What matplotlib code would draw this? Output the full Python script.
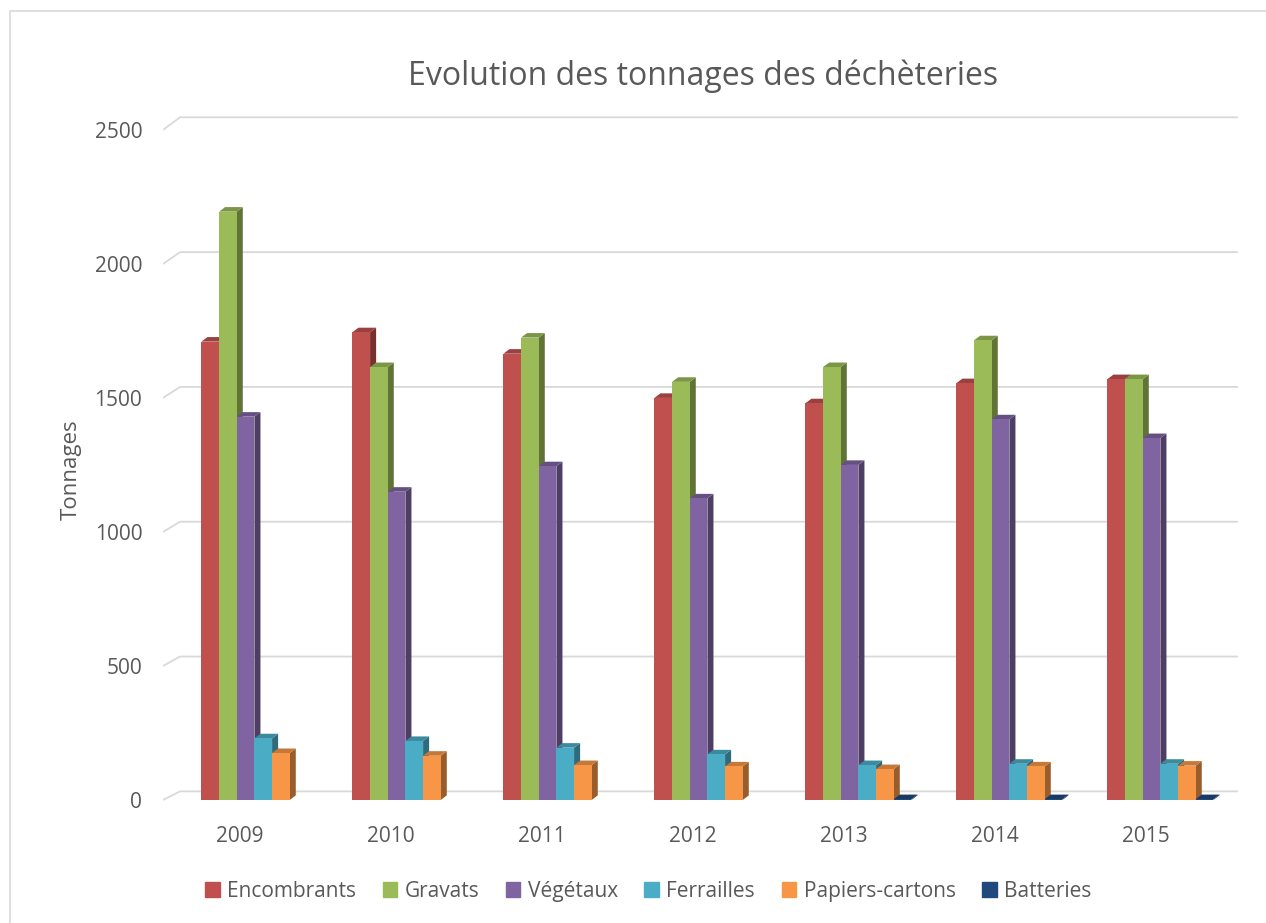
# Evolution des tonnages des déchèteries - pseudo-3D clustered columns
import matplotlib as mpl
import matplotlib.pyplot as plt
import numpy as np
from matplotlib.colors import to_rgb
from matplotlib.patches import Rectangle

mpl.rcParams.update({
    "font.family": ["Open Sans", "DejaVu Sans"],
    "text.color": "#595959",
    "axes.labelcolor": "#595959",
    "xtick.color": "#595959",
    "ytick.color": "#595959",
})

# --- Data ---
years = ["2009", "2010", "2011", "2012", "2013", "2014", "2015"]
series = ["Encombrants", "Gravats", "Végétaux", "Ferrailles", "Papiers-cartons", "Batteries"]
encombrants = [1710, 1745, 1665, 1500, 1480, 1555, 1570]
gravats = [2195, 1615, 1725, 1560, 1615, 1715, 1570]
vegetaux = [1430, 1150, 1245, 1125, 1250, 1420, 1350]
ferrailles = [230, 220, 195, 170, 130, 135, 135]
papiers = [175, 165, 130, 125, 115, 125, 128]
batteries = [np.nan, np.nan, np.nan, np.nan, 3, 3, 3]
yticks = [0, 500, 1000, 1500, 2000, 2500]

values = [encombrants, gravats, vegetaux, ferrailles, papiers, batteries]
colors = ["#C0504D", "#9BBB59", "#8064A2", "#4BACC6", "#F79646", "#1F497D"]


def shade(c, f):
    r, g, b = to_rgb(c)
    return (r * f, g * f, b * f)


fig = plt.figure(figsize=(12.66, 9.23), dpi=100)
ax = fig.add_axes([0.1288, 0.1217, 0.8491, 0.755])
ax.set_xlim(-0.51, 6.609)
ax.set_ylim(-40, 2560)

# back-wall gridlines with perspective stub on the left
xl, xr = ax.get_xlim()
gx = 17 / 151          # depth of the wall, in x units
gofs = 32              # depth of the wall, in y units
for v in yticks:
    ax.plot([xl, xl + gx, xr], [v, v + gofs + 0.006 * v, v + gofs + 0.006 * v],
            color="#d9d9d9", lw=1.3, zorder=0, solid_capstyle="butt")

# columns: front face + side + top
x = np.arange(len(years))
w = 0.117
shift = 0.095
dx, dy = 0.04, 17
for k, (vals, c) in enumerate(zip(values, colors)):
    lefts = x + shift - 3 * w + k * w
    for xi, v in zip(lefts, vals):
        if np.isnan(v):
            continue
        z = 2 + k
        ax.fill([xi + w, xi + w + dx, xi + w + dx, xi + w],
                [0, dy, v + dy, v], color=shade(c, 0.62), lw=0, zorder=z)
        ax.fill([xi, xi + dx, xi + w + dx, xi + w],
                [v, v + dy, v + dy, v], color=shade(c, 0.8), lw=0, zorder=z)
    ax.bar(lefts, vals, w, align="edge", color=c, lw=0, zorder=2 + k + 0.5,
           label=series[k])

ax.set_xticks(x)
ax.set_xticklabels(years)
ax.set_yticks(yticks)
ax.tick_params(axis="both", length=0, labelsize=15)
ax.tick_params(axis="y", pad=15)
ax.tick_params(axis="x", pad=11)
for s in ax.spines.values():
    s.set_visible(False)
ax.set_ylabel("Tonnages", fontsize=16)
ax.yaxis.set_label_coords(-0.076, 0.49)

fig.text(0.555, 0.917, "Evolution des tonnages des déchèteries",
         ha="center", va="center", fontsize=23, color="#595959")

handles = [Rectangle((0, 0), 1, 1, color=c) for c in colors]
fig.legend(handles, series, loc="center", bbox_to_anchor=(0.512, 0.0345),
           ncol=6, frameon=False, fontsize=15, handlelength=0.7,
           handleheight=0.7, handletextpad=0.35, columnspacing=1.28)

# chart frame
fig.add_artist(Rectangle((10 / 1266, -0.05), 1.1, 1 - 11 / 923 + 0.05,
                         transform=fig.transFigure, fill=False,
                         edgecolor="#d9d9d9", lw=1.2))

fig.savefig("out.png", dpi=100)
